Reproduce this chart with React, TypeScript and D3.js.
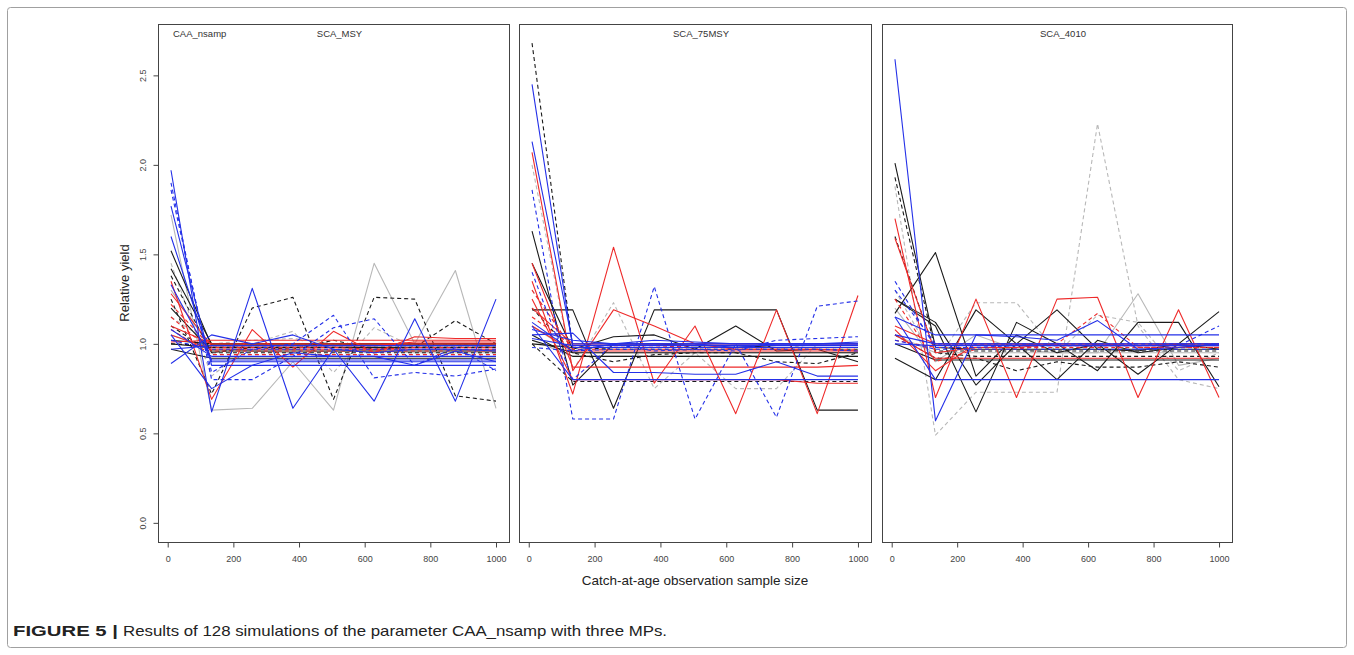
import React, { useEffect, useRef } from 'react'
import * as d3 from 'd3'

// sample sizes on the x axis
const sampleSizes = [10, 133.75, 257.5, 381.25, 505, 628.75, 752.5, 876.25, 1000]
const xTicks = [0, 200, 400, 600, 800, 1000]
const yTicks = [0, 0.5, 1, 1.5, 2, 2.5]
const panelTitles = ['SCA_MSY', 'SCA_75MSY', 'SCA_4010']

type Run = { s: string; v: number[] }

// s: colour letter (k black, g grey, r red, b blue) + '-' solid or '--' dashed
const runsMSY: Run[] = [
  { s: 'g-', v: [1.72, 0.63, 0.64, 0.9, 0.63, 1.45, 1.0, 1.41, 0.64] },
  { s: 'g-', v: [1.3, 0.97, 0.98, 0.97, 0.98, 0.97, 0.98, 0.97, 0.97] },
  { s: 'g--', v: [1.45, 0.82, 1.0, 1.07, 0.84, 1.09, 0.98, 1.0, 0.98] },
  { s: 'g--', v: [1.15, 1.0, 1.02, 1.03, 1.0, 0.99, 1.0, 0.96, 0.96] },
  { s: 'g-', v: [1.05, 0.98, 0.96, 0.95, 0.96, 0.96, 0.95, 0.95, 0.95] },
  { s: 'k--', v: [1.25, 0.72, 1.2, 1.26, 0.69, 1.26, 1.25, 0.71, 0.68] },
  { s: 'k--', v: [1.38, 0.95, 0.98, 0.97, 1.02, 0.97, 0.98, 1.13, 1.0] },
  { s: 'k-', v: [1.52, 0.99, 0.99, 0.99, 0.99, 0.99, 0.99, 0.99, 0.99] },
  { s: 'k-', v: [1.42, 1.0, 1.0, 1.0, 1.0, 1.0, 1.0, 1.0, 1.0] },
  { s: 'k-', v: [1.02, 1.0, 1.0, 1.0, 1.0, 1.0, 1.0, 1.0, 1.0] },
  { s: 'k-', v: [0.97, 0.92, 0.92, 0.92, 0.92, 0.92, 0.92, 0.92, 0.92] },
  { s: 'k--', v: [1.1, 0.95, 0.95, 0.95, 0.95, 0.95, 0.95, 0.95, 0.95] },
  { s: 'k-', v: [1.2, 0.96, 0.96, 0.96, 0.96, 0.96, 0.96, 0.96, 0.96] },
  { s: 'k--', v: [1.0, 0.99, 0.99, 0.99, 0.99, 0.99, 0.99, 0.99, 0.99] },
  { s: 'k-', v: [1.0, 0.98, 0.98, 0.98, 0.98, 0.98, 0.98, 0.98, 0.98] },
  { s: 'r-', v: [1.35, 0.69, 1.08, 0.87, 1.07, 0.95, 1.04, 1.03, 1.03] },
  { s: 'r-', v: [1.28, 0.99, 0.99, 0.99, 0.99, 0.99, 1.01, 1.01, 1.01] },
  { s: 'r--', v: [1.22, 0.98, 0.98, 0.98, 0.98, 0.97, 0.98, 0.98, 0.98] },
  { s: 'r-', v: [1.1, 1.0, 1.0, 1.0, 1.0, 1.0, 1.0, 1.0, 1.0] },
  { s: 'r--', v: [1.15, 0.96, 0.96, 0.96, 0.96, 0.96, 0.96, 0.96, 0.96] },
  { s: 'r-', v: [1.05, 0.97, 0.97, 0.97, 0.97, 0.97, 0.97, 0.97, 0.97] },
  { s: 'r--', v: [1.08, 0.94, 0.94, 0.94, 0.94, 0.94, 0.94, 0.94, 0.94] },
  { s: 'r-', v: [1.01, 1.02, 1.02, 1.02, 1.02, 1.02, 1.02, 1.02, 1.02] },
  { s: 'b-', v: [1.97, 0.62, 1.31, 0.64, 0.97, 0.68, 1.14, 0.68, 1.25] },
  { s: 'b--', v: [1.9, 0.8, 0.8, 0.93, 1.09, 1.14, 0.88, 0.98, 0.85] },
  { s: 'b--', v: [1.86, 0.84, 0.97, 1.0, 1.16, 0.81, 0.84, 0.82, 0.86] },
  { s: 'b-', v: [1.77, 0.88, 0.88, 0.88, 0.88, 0.88, 0.88, 0.88, 0.88] },
  { s: 'b-', v: [1.6, 0.9, 0.9, 0.9, 0.9, 0.9, 0.9, 0.9, 0.9] },
  { s: 'b-', v: [1.33, 0.91, 0.91, 0.91, 0.91, 0.91, 0.91, 0.91, 0.91] },
  { s: 'b-', v: [0.89, 1.05, 1.0, 1.05, 0.97, 0.95, 0.97, 0.97, 0.96] },
  { s: 'b-', v: [1.05, 0.75, 0.88, 0.95, 0.93, 0.93, 0.88, 0.96, 0.9] },
  { s: 'b-', v: [1.08, 0.93, 0.93, 0.93, 0.93, 0.93, 0.93, 0.93, 0.93] },
  { s: 'b--', v: [1.02, 0.97, 0.97, 0.97, 0.97, 0.97, 0.97, 0.97, 0.97] },
  { s: 'b-', v: [0.97, 0.99, 0.99, 0.99, 0.99, 0.99, 0.99, 0.99, 0.99] },
]

const runs75MSY: Run[] = [
  { s: 'g--', v: [2.0, 0.85, 1.23, 0.75, 0.95, 0.75, 0.75, 1.0, 1.0] },
  { s: 'g-', v: [1.1, 0.95, 0.95, 0.95, 0.95, 0.95, 0.95, 0.95, 0.95] },
  { s: 'g--', v: [1.3, 0.97, 0.97, 0.97, 0.96, 0.97, 0.97, 1.0, 1.0] },
  { s: 'g-', v: [1.02, 0.93, 0.93, 0.93, 0.93, 0.93, 0.93, 0.93, 0.93] },
  { s: 'k--', v: [2.68, 0.98, 0.97, 0.97, 0.97, 0.97, 0.97, 0.97, 0.97] },
  { s: 'k-', v: [1.63, 0.77, 1.0, 1.0, 0.99, 0.99, 0.98, 0.98, 0.98] },
  { s: 'k-', v: [1.19, 1.19, 0.64, 1.19, 1.19, 1.19, 1.19, 0.63, 0.63] },
  { s: 'k-', v: [1.45, 0.97, 1.04, 1.05, 0.97, 1.1, 0.96, 0.97, 0.9] },
  { s: 'k--', v: [1.2, 0.95, 0.9, 0.94, 0.95, 0.95, 0.9, 0.89, 0.95] },
  { s: 'k-', v: [1.05, 0.93, 0.93, 0.93, 0.93, 0.93, 0.93, 0.93, 0.93] },
  { s: 'k-', v: [1.02, 0.95, 0.95, 0.95, 0.95, 0.95, 0.95, 0.95, 0.95] },
  { s: 'k--', v: [1.0, 0.79, 0.79, 0.79, 0.79, 0.79, 0.79, 0.79, 0.79] },
  { s: 'k-', v: [1.0, 0.98, 0.98, 0.98, 0.98, 0.98, 0.98, 0.98, 0.98] },
  { s: 'r-', v: [1.35, 0.72, 1.54, 0.78, 1.1, 0.61, 1.19, 0.61, 1.27] },
  { s: 'r-', v: [2.07, 0.85, 1.19, 1.1, 1.0, 0.97, 0.97, 0.97, 0.96] },
  { s: 'r-', v: [1.45, 0.87, 0.87, 0.87, 0.87, 0.87, 0.87, 0.87, 0.88] },
  { s: 'r-', v: [1.25, 0.8, 0.8, 0.8, 0.8, 0.8, 0.8, 0.78, 0.78] },
  { s: 'r--', v: [1.3, 0.97, 0.97, 0.97, 0.97, 0.97, 0.97, 0.97, 0.97] },
  { s: 'r--', v: [1.15, 0.99, 0.99, 0.99, 0.98, 0.98, 0.98, 0.98, 0.98] },
  { s: 'r-', v: [1.2, 1.0, 1.0, 1.0, 1.0, 1.0, 1.0, 1.0, 1.0] },
  { s: 'r-', v: [1.1, 0.96, 0.96, 0.96, 0.96, 0.96, 0.96, 0.96, 0.96] },
  { s: 'b-', v: [2.45, 0.98, 0.98, 0.98, 0.98, 0.98, 0.98, 0.98, 0.98] },
  { s: 'b-', v: [2.13, 1.0, 1.0, 1.0, 1.0, 1.0, 1.0, 1.0, 1.0] },
  { s: 'b--', v: [1.86, 0.58, 0.58, 1.32, 0.58, 1.0, 0.59, 1.21, 1.24] },
  { s: 'b--', v: [1.4, 0.8, 1.0, 0.96, 0.97, 0.96, 1.02, 1.03, 1.04] },
  { s: 'b-', v: [1.1, 0.8, 0.8, 0.8, 0.8, 0.8, 0.8, 0.8, 0.8] },
  { s: 'b-', v: [1.05, 1.06, 0.84, 0.84, 0.83, 0.83, 0.9, 0.82, 0.82] },
  { s: 'b-', v: [1.08, 1.02, 1.0, 1.02, 1.01, 1.0, 1.0, 1.0, 1.0] },
  { s: 'b-', v: [1.03, 0.99, 0.99, 0.99, 0.99, 0.99, 0.99, 0.99, 0.99] },
  { s: 'b--', v: [0.98, 0.96, 0.97, 0.97, 0.97, 0.97, 0.97, 0.97, 0.96] },
  { s: 'b-', v: [1.12, 0.96, 1.0, 1.0, 1.0, 0.98, 1.0, 1.0, 1.01] },
]

const runs4010: Run[] = [
  { s: 'g--', v: [1.88, 0.49, 0.73, 0.73, 0.73, 2.23, 1.1, 0.8, 0.75] },
  { s: 'g--', v: [1.3, 0.9, 1.23, 1.23, 0.95, 1.16, 1.12, 0.85, 0.95] },
  { s: 'g-', v: [1.2, 0.9, 1.05, 0.97, 0.95, 0.95, 1.28, 0.88, 0.92] },
  { s: 'g-', v: [1.05, 0.95, 0.95, 0.95, 0.95, 0.95, 0.95, 0.95, 0.95] },
  { s: 'k-', v: [2.01, 0.98, 0.97, 0.97, 0.97, 0.97, 0.97, 0.97, 0.97] },
  { s: 'k--', v: [1.93, 0.96, 0.96, 0.96, 0.96, 0.96, 0.96, 0.96, 0.96] },
  { s: 'k--', v: [1.6, 0.95, 0.93, 0.93, 0.93, 0.93, 0.93, 0.93, 0.93] },
  { s: 'k-', v: [1.17, 1.51, 0.82, 1.05, 0.95, 1.0, 0.83, 1.0, 0.97] },
  { s: 'k-', v: [1.25, 1.1, 0.62, 1.12, 1.0, 0.85, 1.12, 1.12, 0.76] },
  { s: 'k-', v: [0.92, 0.8, 1.19, 1.0, 1.19, 0.97, 0.96, 1.0, 1.18] },
  { s: 'k-', v: [1.25, 1.12, 0.77, 1.0, 0.8, 1.02, 0.95, 0.98, 1.0] },
  { s: 'k--', v: [1.05, 0.92, 0.92, 0.85, 0.9, 0.87, 0.87, 0.9, 0.87] },
  { s: 'k-', v: [1.0, 0.91, 0.91, 0.91, 0.91, 0.91, 0.91, 0.91, 0.91] },
  { s: 'r-', v: [1.7, 0.7, 1.25, 0.7, 1.25, 1.26, 0.7, 1.19, 0.7] },
  { s: 'r-', v: [1.59, 0.95, 0.98, 0.98, 1.0, 1.0, 0.99, 1.0, 1.0] },
  { s: 'r--', v: [1.25, 0.9, 0.97, 0.97, 1.0, 1.17, 0.98, 0.98, 0.98] },
  { s: 'r-', v: [1.08, 0.85, 1.0, 1.0, 0.99, 0.99, 0.99, 0.99, 0.99] },
  { s: 'r-', v: [1.05, 0.92, 0.92, 0.92, 0.92, 0.92, 0.92, 0.92, 0.92] },
  { s: 'r--', v: [1.02, 0.98, 0.98, 0.98, 0.98, 0.98, 0.98, 0.98, 0.98] },
  { s: 'r-', v: [1.1, 1.0, 1.0, 1.0, 1.0, 1.0, 1.0, 1.0, 1.0] },
  { s: 'b-', v: [2.59, 0.57, 1.05, 1.04, 1.02, 1.13, 0.97, 0.98, 1.0] },
  { s: 'b-', v: [1.15, 0.8, 0.8, 0.8, 0.8, 0.8, 0.8, 0.8, 0.8] },
  { s: 'b-', v: [1.15, 1.05, 1.05, 1.05, 1.05, 1.05, 1.05, 1.05, 1.05] },
  { s: 'b--', v: [1.35, 0.98, 0.98, 0.99, 0.99, 0.99, 0.99, 0.99, 1.1] },
  { s: 'b--', v: [1.3, 1.0, 1.0, 1.0, 1.0, 1.0, 1.0, 1.0, 1.0] },
  { s: 'b-', v: [1.05, 1.0, 1.0, 1.0, 1.0, 1.0, 1.0, 1.0, 1.0] },
  { s: 'b-', v: [1.0, 0.99, 0.99, 0.99, 0.99, 0.99, 0.99, 0.99, 0.99] },
  { s: 'b--', v: [1.02, 0.97, 0.97, 0.97, 0.97, 0.97, 0.97, 0.97, 0.97] },
]

const panelRuns = [runsMSY, runs75MSY, runs4010]

const colours: Record<string, string> = {
  k: '#1a1a1a',
  g: '#b8b8b8',
  r: '#ee2a2a',
  b: '#2430e8',
}

const font = 'Liberation Sans, Arial, sans-serif'

export default function App() {
  const ref = useRef<SVGSVGElement>(null)

  useEffect(() => {
    const svg = d3.select(ref.current)
    svg.selectAll('*').remove()

    // outer figure frame
    svg.append('rect')
      .attr('x', 7.5).attr('y', 7.5)
      .attr('width', 1339).attr('height', 640)
      .attr('rx', 3)
      .attr('fill', 'none')
      .attr('stroke', '#a0a0a0')

    const panels = [
      { left: 158, right: 509 },
      { left: 519, right: 871 },
      { left: 882, right: 1232 },
    ]
    const top = 24
    const bottom = 542

    const y = d3.scaleLinear().domain([-0.107, 2.787]).range([bottom, top])

    panels.forEach((p, i) => {
      const x = d3.scaleLinear().domain([-29.6, 1039.6]).range([p.left, p.right])
      const g = svg.append('g')

      const line = d3.line<number>()
        .x((_, j) => x(sampleSizes[j]))
        .y(d => y(d))

      const order = ['g', 'k', 'r', 'b']
      const runs = [...panelRuns[i]].sort((a, b) => order.indexOf(a.s[0]) - order.indexOf(b.s[0]))

      g.selectAll('path.run')
        .data(runs)
        .enter()
        .append('path')
        .attr('class', 'run')
        .attr('d', d => line(d.v))
        .attr('fill', 'none')
        .attr('stroke', d => colours[d.s[0]])
        .attr('stroke-width', 1.1)
        .attr('stroke-dasharray', d => (d.s.endsWith('--') ? '4,3' : null))
        .attr('stroke-linejoin', 'round')

      // box
      g.append('rect')
        .attr('x', p.left + 0.5).attr('y', top + 0.5)
        .attr('width', p.right - p.left).attr('height', bottom - top)
        .attr('fill', 'none')
        .attr('stroke', '#444')

      // x axis
      const xAxis = g.append('g')
        .attr('transform', `translate(0, ${bottom + 0.5})`)
        .call(d3.axisBottom(x).tickValues(xTicks).tickSize(5).tickSizeOuter(0).tickPadding(8).tickFormat(d3.format('d')))
      xAxis.select('.domain')
        .attr('d', `M${x(0)},0H${x(1000)}`)
        .attr('stroke', '#444')
      xAxis.selectAll('line').attr('stroke', '#444')
      xAxis.selectAll('text')
        .attr('font-family', font)
        .attr('font-size', 9)
        .attr('fill', '#444')

      // title
      g.append('text')
        .attr('x', (p.left + p.right) / 2 + 6)
        .attr('y', 37)
        .attr('text-anchor', 'middle')
        .attr('font-family', font)
        .attr('font-size', 9.5)
        .attr('fill', '#333')
        .text(panelTitles[i])

      if (i === 0) {
        const yAxis = g.append('g')
          .attr('transform', `translate(${p.left + 0.5}, 0)`)
          .call(d3.axisLeft(y).tickValues(yTicks).tickSize(5).tickSizeOuter(0).tickFormat(d3.format('.1f')))
        yAxis.select('.domain').remove()
        yAxis.selectAll('line').attr('stroke', '#444')
        yAxis.selectAll('text')
          .attr('font-family', font)
          .attr('font-size', 9)
          .attr('fill', '#444')
          .attr('text-anchor', 'middle')
          .attr('dy', null)
          .attr('x', null)
          .attr('transform', 'translate(-13, 0) rotate(-90)')

        g.append('text')
          .attr('x', p.left + 15)
          .attr('y', 37)
          .attr('font-family', font)
          .attr('font-size', 9.5)
          .attr('fill', '#333')
          .text('CAA_nsamp')

        g.append('text')
          .attr('transform', `translate(129, ${(top + bottom) / 2}) rotate(-90)`)
          .attr('text-anchor', 'middle')
          .attr('font-family', font)
          .attr('font-size', 13)
          .attr('fill', '#222')
          .text('Relative yield')
      }
    })

    svg.append('text')
      .attr('x', 695)
      .attr('y', 585)
      .attr('text-anchor', 'middle')
      .attr('font-family', font)
      .attr('font-size', 13.5)
      .attr('fill', '#222')
      .text('Catch-at-age observation sample size')

    // caption (condensed face in the original, so stretch to its width)
    svg.append('text')
      .attr('x', 13)
      .attr('y', 636)
      .attr('font-family', font)
      .attr('font-size', 14.5)
      .attr('font-weight', 'bold')
      .attr('fill', '#222')
      .attr('textLength', 105)
      .attr('lengthAdjust', 'spacingAndGlyphs')
      .text('FIGURE 5 |')
    svg.append('text')
      .attr('x', 123)
      .attr('y', 636)
      .attr('font-family', font)
      .attr('font-size', 14.5)
      .attr('fill', '#222')
      .attr('textLength', 544)
      .attr('lengthAdjust', 'spacingAndGlyphs')
      .text('Results of 128 simulations of the parameter CAA_nsamp with three MPs.')
  }, [])

  return (
    <svg
      ref={ref}
      width={1354}
      height={655}
      style={{ position: 'absolute', left: 0, top: 0, background: '#fff' }}
    />
  )
}
